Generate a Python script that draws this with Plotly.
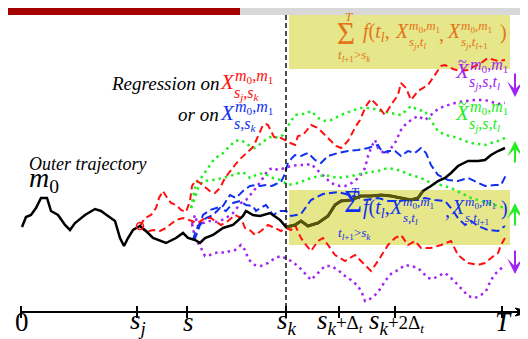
import plotly.graph_objects as go

# ---------------- data (pixel-space illustration coordinates) ----------------
outer_x = [14, 18, 23, 28, 33, 39, 43, 50, 57, 62, 67, 77, 87, 93, 100, 107, 112, 116, 120, 125, 132, 138, 145, 158,
           168, 175, 180, 187, 192, 197, 205, 215, 225, 235, 238, 245, 252, 262, 272, 278, 287, 293, 300, 310, 320,
           327, 333, 343, 353, 363, 373, 383, 393, 403, 410, 415, 423, 430, 437, 443, 450, 460, 470, 477, 483, 490, 497]
outer_y = [219, 209, 207, 200, 190, 190, 203, 207, 217, 222, 215, 207, 201, 203, 208, 213, 230, 238, 230, 222, 218, 223,
           230, 235, 230, 225, 230, 232, 235, 230, 227, 220, 217, 208, 203, 207, 208, 205, 212, 219, 217, 213, 218, 215,
           208, 197, 193, 192, 188, 188, 187, 188, 190, 192, 190, 183, 178, 173, 170, 165, 158, 153, 153, 152, 147, 143, 140]

red1_x = [132, 137, 143, 148, 151, 155, 158, 163, 168, 173, 178, 182, 184, 188, 192, 198, 203, 207, 212, 217, 222, 227,
          231, 235, 240, 244, 247, 250, 253, 255, 258, 260, 263, 266, 270, 273, 277, 280, 287, 290, 295, 303, 310, 313,
          320, 323, 328, 333, 340, 348, 352, 358, 363, 370, 377, 383, 390, 393, 398, 403, 410, 420, 427, 433, 437, 445,
          452, 460, 467, 473, 480, 490, 497]
red1_y = [218, 210, 207, 200, 190, 183, 188, 195, 197, 202, 204, 193, 178, 172, 175, 180, 184, 185, 180, 170, 163, 157,
          152, 148, 143, 140, 135, 128, 122, 117, 116, 117, 123, 129, 130, 130, 132, 134, 137, 128, 127, 117, 120, 123,
          130, 133, 138, 140, 133, 118, 112, 98, 91, 98, 107, 97, 87, 75, 80, 92, 83, 77, 67, 58, 57, 61, 63, 62, 58,
          55, 50, 53, 52]

red2_x = [132, 138, 145, 152, 158, 162, 168, 175, 182, 190, 197, 203, 207, 213, 220, 227, 233, 237, 243, 247, 253, 260,
          267, 273, 278, 283, 287, 293, 298, 303, 310, 315, 320, 327, 337, 347, 352, 357, 363, 370, 375, 380, 387, 393,
          400, 407, 413, 423, 433, 443, 450, 460, 470, 477, 483, 490, 493, 497]
red2_y = [218, 224, 222, 223, 220, 217, 212, 210, 212, 215, 210, 210, 213, 217, 213, 207, 210, 220, 223, 227, 223, 217,
          220, 223, 220, 222, 217, 230, 237, 243, 233, 230, 237, 247, 253, 247, 252, 257, 263, 253, 245, 237, 230, 227,
          237, 233, 240, 240, 237, 233, 247, 255, 257, 255, 250, 245, 237, 230]

blue1_x = [185, 188, 192, 195, 202, 208, 215, 222, 228, 235, 242, 248, 252, 258, 264, 268, 273, 276, 278, 280, 284, 287,
           293, 300, 307, 313, 320, 330, 340, 350, 360, 370, 375, 380, 387, 393, 400, 407, 413, 418, 423, 430, 440, 450,
           460, 470, 477, 487, 493, 498]
blue1_y = [232, 222, 215, 207, 202, 200, 198, 187, 190, 183, 178, 177, 178, 177, 178, 176, 174, 168, 160, 155, 150, 147,
           148, 145, 152, 155, 148, 145, 143, 142, 140, 137, 145, 143, 143, 148, 143, 145, 140, 145, 157, 167, 172, 173,
           170, 175, 178, 177, 177, 167]

blue2_x = [185, 188, 192, 198, 205, 212, 218, 225, 232, 238, 245, 248, 252, 258, 265, 272, 278, 283, 293, 303, 315, 330,
           345, 357, 370, 380, 390, 400, 410, 417, 427, 437, 443, 450, 457, 463, 470, 480, 490, 497]
blue2_y = [232, 228, 217, 210, 207, 200, 203, 195, 193, 197, 198, 203, 200, 197, 207, 203, 203, 208, 206, 192, 186, 184,
           188, 192, 190, 193, 193, 192, 192, 190, 192, 193, 200, 210, 217, 213, 218, 222, 223, 218]

green1_x = [183, 185, 188, 193, 200, 207, 213, 220, 227, 233, 240, 247, 253, 260, 265, 270, 275, 280, 287, 292, 297, 303,
            310, 317, 323, 333, 343, 353, 363, 373, 383, 393, 403, 410, 417, 423, 430, 437, 443, 450, 457, 463, 470, 477,
            483, 490, 497]
green1_y = [200, 190, 175, 170, 160, 150, 147, 140, 133, 132, 137, 140, 135, 130, 128, 130, 127, 118, 107, 106, 106, 103,
            110, 113, 112, 107, 103, 100, 100, 103, 105, 107, 98, 102, 103, 113, 123, 127, 128, 130, 133, 135, 136, 137,
            135, 133, 130]

green2_x = [183, 187, 190, 195, 205, 215, 225, 235, 242, 248, 255, 265, 273, 280, 290, 303, 317, 330, 343, 357, 370, 380,
            390, 403, 413, 423, 433, 443, 453, 463, 473, 483, 490, 497]
green2_y = [200, 190, 180, 173, 172, 170, 167, 164, 170, 167, 165, 170, 172, 177, 175, 170, 167, 170, 168, 165, 163, 160,
            162, 167, 170, 175, 177, 180, 185, 190, 193, 196, 198, 200]

purple1_x = [184, 187, 190, 195, 202, 210, 218, 225, 233, 238, 243, 248, 255, 260, 265, 270, 277, 283, 290, 297, 303,
             307, 313, 317, 322, 327, 332, 337, 342, 347, 352, 357, 360, 363, 367, 370, 377, 380, 387, 393, 397, 403,
             410, 417, 423, 430, 437, 447, 457, 467, 477, 483, 490, 497]
purple1_y = [216, 207, 218, 215, 213, 214, 210, 205, 195, 192, 186, 180, 170, 162, 160, 162, 160, 158, 157, 157, 156,
             160, 165, 170, 174, 177, 178, 178, 176, 173, 168, 160, 148, 140, 132, 140, 146, 144, 135, 122, 117, 112,
             108, 112, 107, 101, 98, 95, 93, 92, 92, 94, 96, 95]

purple2_x = [184, 187, 192, 197, 202, 207, 212, 217, 222, 227, 233, 237, 240, 243, 247, 253, 260, 267, 273, 277, 283,
             290, 297, 303, 310, 317, 323, 330, 337, 343, 350, 354, 357, 362, 367, 373, 377, 383, 390, 397, 403, 410,
             415, 420, 425, 430, 437, 443, 450, 455, 460, 467, 473, 478, 483, 488, 493, 497]
purple2_y = [216, 230, 238, 248, 247, 245, 244, 245, 243, 242, 237, 242, 250, 254, 257, 258, 255, 250, 248, 250, 253,
             258, 265, 272, 265, 258, 258, 262, 268, 272, 278, 285, 293, 291, 287, 280, 273, 266, 262, 257, 258, 260,
             265, 270, 271, 268, 265, 270, 277, 283, 288, 290, 287, 283, 272, 265, 260, 257]

tick_x = [13, 129, 179, 278, 331, 387, 494]
tick_labels = ["0",
               "<i>s</i><sub><i>j</i></sub>",
               "<i>s</i>",
               "<i>s</i><sub><i>k</i></sub>",
               "<i>s</i><sub><i>k</i></sub><span style='font-size:19px'>+Δ<sub><i>t</i></sub></span>",
               "<i>s</i><sub><i>k</i></sub><span style='font-size:19px'>+2Δ<sub><i>t</i></sub></span>",
               "<i>T</i>"]

# ---------------- styles ----------------
SERIF = "Liberation Serif, Times New Roman, DejaVu Serif, serif"
RED = "#ff1010"
BLUE = "#1030f0"
GREEN = "#22ee22"
PURPLE = "#a224f2"
ORANGE = "#e57318"
OLIVE = "#55550c"
BOXC = "#e6e68a"
AXIS_Y = 304
BOX1 = (281, 7, 502, 61)
BOX2 = (281, 182, 502, 237)
PADX = -5      # compensates annotation left padding
DY = -0.33     # compensates annotation box centring (fraction of font size)

fig = go.Figure()


def path(xs, ys, color, dash, width):
    fig.add_trace(go.Scatter(x=xs, y=ys, mode="lines", hoverinfo="skip",
                             line=dict(color=color, dash=dash, width=width)))


def ann(x, y, text, size, color="black", xanchor="left"):
    xo = x + (PADX if xanchor == "left" else 0)
    fig.add_annotation(x=xo, y=y + DY * size, xref="x", yref="y", text=text, showarrow=False,
                       xanchor=xanchor, yanchor="middle", borderpad=0,
                       font=dict(family=SERIF, size=size, color=color))


def mterm(x, y, sup, sub, color, size=21, ssize=16, tilde=False):
    ann(x, y, "<i>X</i>", size, color)
    ann(x + 0.70 * size, y - 0.36 * size, sup, ssize, color)
    ann(x + 0.68 * size, y + 0.46 * size, sub, ssize, color)
    if tilde:
        ann(x + 0.42 * size + PADX, y - 0.55 * size, "~", int(size * 0.8), color, xanchor="center")


M01 = "<i>m</i><sub>0</sub>,<i>m</i><sub>1</sub>"

# boxes
for b in (BOX1, BOX2):
    fig.add_shape(type="rect", x0=b[0], y0=b[1], x1=b[2], y1=b[3], line=dict(width=0),
                  fillcolor=BOXC, layer="below")

# top strip
fig.add_shape(type="rect", x0=0, y0=0, x1=232, y1=7, line=dict(width=0), fillcolor="#a30000")
fig.add_shape(type="rect", x0=232, y0=0, x1=528, y1=7, line=dict(width=0), fillcolor="#d8d8d8")

# vertical dashed line at s_k
fig.add_shape(type="line", x0=tick_x[3], x1=tick_x[3], y0=7, y1=AXIS_Y,
              line=dict(color="black", width=1.4, dash="5px,3px"))

# trajectories
DOT = "2.5px,4px"
path(purple2_x, purple2_y, PURPLE, DOT, 2.5)
path(purple1_x, purple1_y, PURPLE, DOT, 2.5)
path(green2_x, green2_y, GREEN, DOT, 2.5)
path(green1_x, green1_y, GREEN, DOT, 2.5)
path(blue2_x, blue2_y, BLUE, "8px,4px", 2)
path(blue1_x, blue1_y, BLUE, "8px,4px", 2)
path(red2_x, red2_y, RED, "7px,4px", 2)
path(red1_x, red1_y, RED, "7px,4px", 2)
path(outer_x, outer_y, "black", "solid", 2.5)
inbox = [i for i in range(len(outer_x)) if outer_x[i] >= BOX2[0] - 4 and outer_y[i] >= BOX2[1] - 2]
path([outer_x[i] for i in inbox], [outer_y[i] for i in inbox], OLIVE, "solid", 3)

# start marker of inner red trajectories
fig.add_trace(go.Scatter(x=[red1_x[0]], y=[red1_y[0]], mode="markers", hoverinfo="skip",
                         marker=dict(symbol="circle-open", size=7, color=RED, line=dict(width=1.5))))

# time axis
fig.add_shape(type="line", x0=tick_x[0], x1=514, y0=AXIS_Y, y1=AXIS_Y, line=dict(color="black", width=2))
fig.add_shape(type="path", path=f"M 507 {AXIS_Y-4} L 523 {AXIS_Y} L 507 {AXIS_Y+4} L 511 {AXIS_Y} Z",
              fillcolor="black", line=dict(color="black", width=1))
for tx, tl in zip(tick_x, tick_labels):
    fig.add_shape(type="line", x0=tx, x1=tx, y0=AXIS_Y - 6, y1=AXIS_Y + 6, line=dict(color="black", width=2))
    ann(tx + 1, 323, tl, 27, "black", xanchor="center")

# left texts
ann(25, 162, "<i>Outer trajectory</i>", 18)
ann(25, 181, "<i>m</i><sub>0</sub>", 28)
ann(212, 82, "<i>Regression on</i>", 19, xanchor="right")
mterm(216, 81, M01, "<i>s</i><sub><i>j</i></sub>,<i>s</i><sub><i>k</i></sub>", RED)
ann(212, 113, "<i>or on</i>", 19, xanchor="right")
mterm(216, 112, M01, "<i>s</i>,<i>s</i><sub><i>k</i></sub>", BLUE)

# top box formula
ann(338, 36, "Σ", 31, ORANGE, xanchor="center")
ann(341, 13, "<i>T</i>", 13, ORANGE, xanchor="center")
ann(346, 52, "<i>t</i><sub><i>l</i>+1</sub>&gt;<i>s</i><sub><i>k</i></sub>", 13, ORANGE, xanchor="center")
ann(359, 31, "<i>f</i>(<i>t</i><sub><i>l</i></sub>,", 20, ORANGE)
mterm(391, 30, M01, "<i>s</i><sub><i>j</i></sub>,<i>t</i><sub><i>l</i></sub>", ORANGE, size=20, ssize=13)
ann(435, 33, ",", 20, ORANGE)
mterm(443, 30, M01, "<i>s</i><sub><i>j</i></sub>,<i>t</i><sub><i>l</i>+1</sub>", ORANGE, size=20, ssize=13)
ann(496, 31, ")", 20, ORANGE)

# lower box formula
ann(345, 204, "Σ", 31, BLUE, xanchor="center")
ann(347, 188, "<i>T</i>", 13, BLUE, xanchor="center")
ann(346, 230, "<i>t</i><sub><i>l</i>+1</sub>&gt;<i>s</i><sub><i>k</i></sub>", 13, BLUE, xanchor="center")
ann(359, 207, "<i>f</i>(<i>t</i><sub><i>l</i></sub>,", 20, BLUE)
mterm(385, 206, M01, "<i>s</i>,<i>t</i><sub><i>l</i></sub>", BLUE, size=20, ssize=13)
ann(441, 209, ",", 20, BLUE)
mterm(447, 206, M01, "<i>s</i>,<i>t</i><sub><i>l</i>+1</sub>", BLUE, size=20, ssize=13)
ann(497, 207, ")", 20, BLUE)

# right labels
mterm(451, 70, M01, "<i>s</i><sub><i>j</i></sub>,<i>s</i>,<i>t</i><sub><i>l</i></sub>", PURPLE, size=21, ssize=16,
      tilde=True)
mterm(451, 112, M01, "<i>s</i><sub><i>j</i></sub>,<i>s</i>,<i>t</i><sub><i>l</i></sub>", GREEN, size=21, ssize=16,
      tilde=True)

# right arrows
for (y_tail, y_tip, col) in ((64, 89, PURPLE), (156, 133, GREEN), (219, 195, GREEN), (241, 266, PURPLE)):
    fig.add_annotation(x=507, y=y_tip, ax=507, ay=y_tail, xref="x", yref="y", axref="x", ayref="y",
                       text="", showarrow=True, arrowhead=3, arrowsize=1.3, arrowwidth=2, arrowcolor=col)

fig.update_layout(width=528, height=339, margin=dict(l=0, r=0, t=0, b=0),
                  paper_bgcolor="white", plot_bgcolor="white", showlegend=False,
                  font=dict(family=SERIF),
                  xaxis=dict(range=[0, 528], visible=False, fixedrange=True),
                  yaxis=dict(range=[339, 0], visible=False, fixedrange=True))

fig.write_html("out.html")
